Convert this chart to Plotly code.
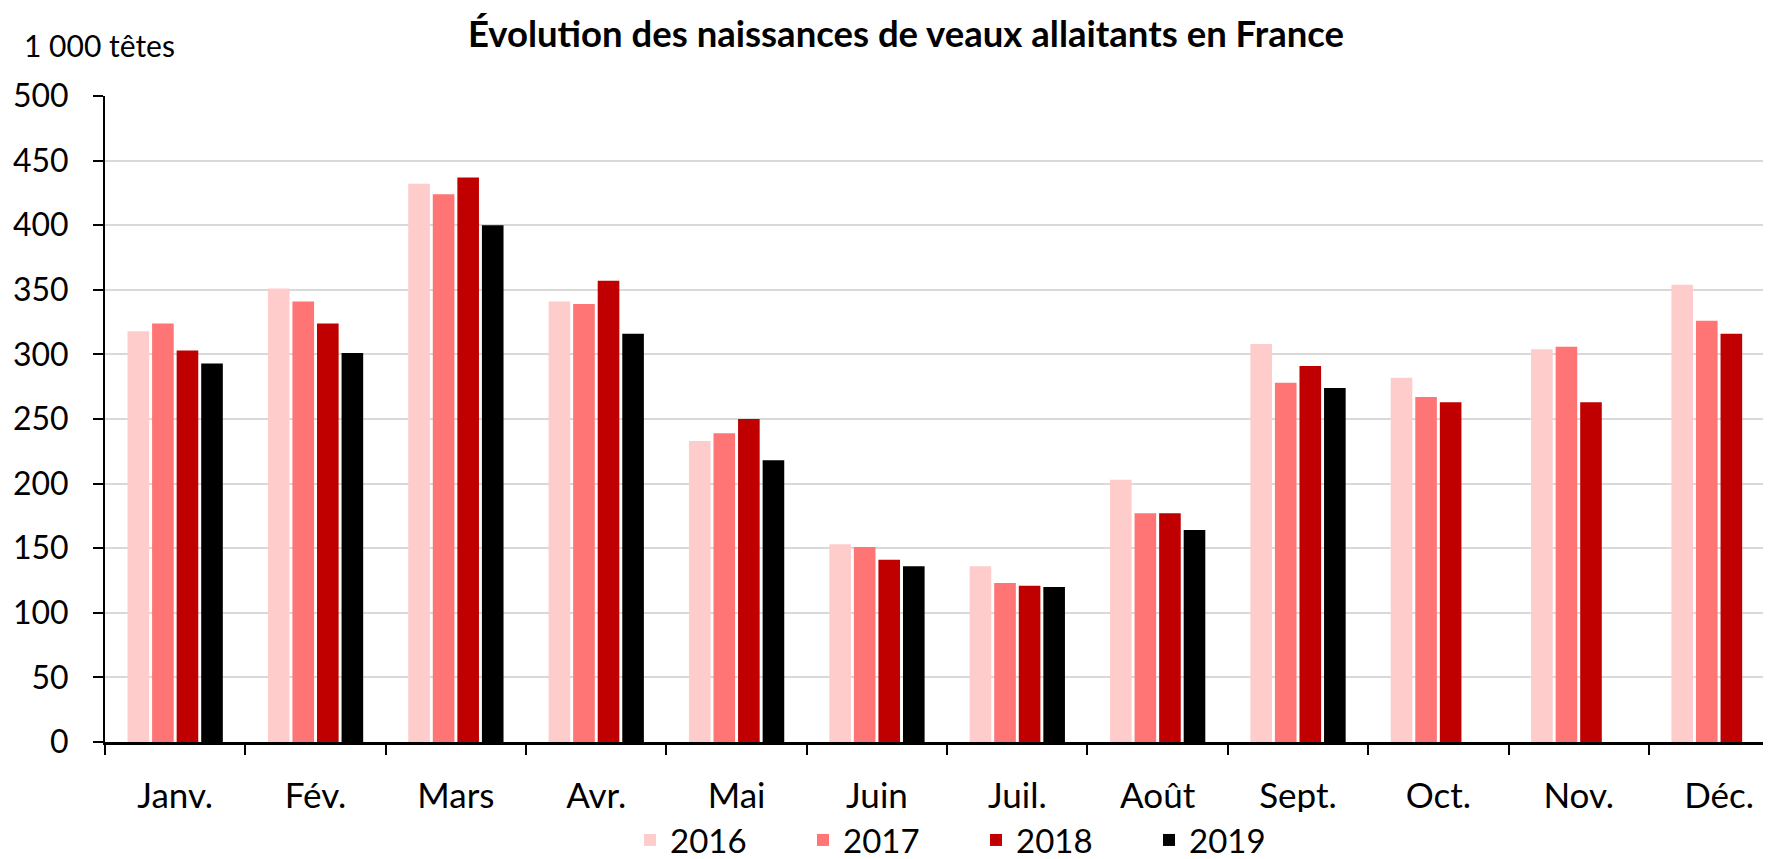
import plotly.graph_objects as go

months = ["Janv.", "Fév.", "Mars", "Avr.", "Mai", "Juin", "Juil.", "Août", "Sept.", "Oct.", "Nov.", "Déc."]
v2016 = [318, 351, 432, 341, 233, 153, 136, 203, 308, 282, 304, 354]
v2017 = [324, 341, 424, 339, 239, 151, 123, 177, 278, 267, 306, 326]
v2018 = [303, 324, 437, 357, 250, 141, 121, 177, 291, 263, 263, 316]
v2019 = [293, 301, 400, 316, 218, 136, 120, 164, 274, None, None, None]
years = ["2016", "2017", "2018", "2019"]
colors = ["#FFCCCC", "#FF7575", "#C00000", "#000000"]
yticks = [0, 50, 100, 150, 200, 250, 300, 350, 400, 450, 500]

FONT = "Lato"
W, H = 1763, 851  # page body adds 8px margin
fig = go.Figure()
for name, vals, col in zip(years, [v2016, v2017, v2018, v2019], colors):
    fig.add_trace(go.Bar(x=months, y=vals, name=name, marker=dict(color=col, line=dict(width=0))))

fig.update_layout(
    width=W, height=H,
    paper_bgcolor="white", plot_bgcolor="white",
    margin=dict(l=97, r=0, t=88, b=117, autoexpand=False),
    barmode="group", bargap=0.30, bargroupgap=0.12,
    font=dict(family=FONT, size=30, color="black"),
    title=dict(text="<b>Évolution des naissances de veaux allaitants en France</b>",
               x=898/W, xanchor="center", yref="container", y=1-26/H, yanchor="middle",
               font=dict(family=FONT, size=36.5, color="black")),
    showlegend=True,
    legend=dict(orientation="h", x=(622-97)/1666, xanchor="left", xref="paper",
                yref="container", y=1-832/H, yanchor="middle",
                entrywidth=128, entrywidthmode="pixels",
                font=dict(family=FONT, size=33), itemwidth=30, traceorder="normal"),
    annotations=[dict(text="1 000 têtes", xref="paper", yref="paper", x=-83/1666, y=(734-37)/646,
                      xanchor="left", yanchor="middle", showarrow=False,
                      font=dict(family=FONT, size=30, color="black"))],
)
fig.update_xaxes(type="category", range=[-0.5, 11.37], tickson="boundaries", automargin=False,
                 showline=True, linecolor="black", linewidth=3,
                 ticks="outside", ticklen=10, tickwidth=2, tickcolor="black",
                 showgrid=False, ticklabelstandoff=21, tickfont=dict(size=35))
fig.update_yaxes(range=[0, 500], tickvals=yticks, showline=True, linecolor="black", linewidth=2,
                 automargin=False,
                 ticks="outside", ticklen=10, tickwidth=2, tickcolor="black",
                 showgrid=True, gridcolor="#D9D9D9", gridwidth=2, zeroline=False,
                 ticklabelstandoff=18, tickfont=dict(size=32))

fig.write_html("out.html")
